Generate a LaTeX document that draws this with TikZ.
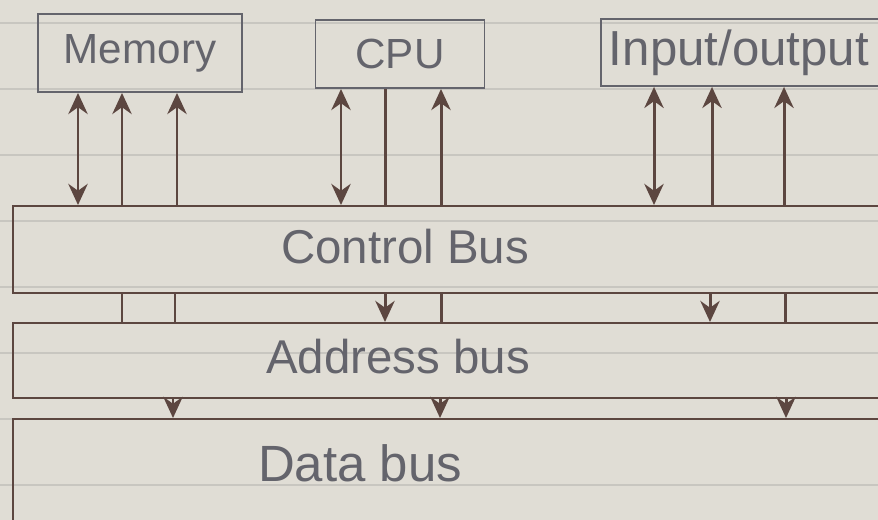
\documentclass[tikz,border=0pt]{standalone}
\usepackage{fontspec}
\setmainfont{Liberation Sans}
\usetikzlibrary{arrows.meta}
\definecolor{paper}{RGB}{224,221,213}
\definecolor{rule}{RGB}{200,198,192}
\definecolor{ink}{RGB}{92,70,64}
\definecolor{pencil}{RGB}{100,100,108}
\tikzset{
    unitbox/.style={draw=pencil,line width=1.1pt,text=pencil,font=\fontsize{24}{28}\selectfont},
    busbox/.style={draw=ink,line width=1.3pt,anchor=north west,minimum width=17.9cm},
    buslabel/.style={text=pencil,font=\fontsize{27}{32}\selectfont},
    wire/.style={draw=ink,line width=1.7pt}
}
\begin{document}
\begin{tikzpicture}[x=0.02cm,y=-0.02cm,>={Stealth[length=12pt,width=11pt]}]
        \clip (0,0) rectangle (878,520);
        \fill[paper] (0,0) rectangle (878,520);
        \foreach \y in {23,89,155,221,287,353,419,485}
            \draw[rule,line width=0.8pt] (0,\y) -- (878,\y);
        % units on top
        \node[unitbox,minimum width=4.08cm,minimum height=1.56cm] (mem) at (140,53) {Memory};
        \node[unitbox,minimum width=3.38cm,minimum height=1.36cm] (cpu) at (400,54) {CPU};
        \node[unitbox,minimum height=1.34cm,anchor=north west,text width=5.9cm,align=left,
              inner xsep=0.16cm,font=\fontsize{28}{33}\selectfont] (io) at (600,18) {Input/output};
        % buses
        \node[busbox,minimum height=1.74cm] (ctrl) at (12,205) {};
        \node[busbox,minimum height=1.5cm] (addr) at (12,322) {};
        \node[busbox,minimum height=2.4cm] (data) at (12,418) {};
        \node[buslabel] (ctrltext) at (405,247) {Control Bus};
        \node[buslabel] (addrtext) at (398,357) {Address bus};
        \node[buslabel,font=\fontsize{29}{34}\selectfont] (datatext) at (360,463) {Data bus};
        % columns of the wires
        \coordinate (m1) at (78,0); \coordinate (m2) at (122,0); \coordinate (m3) at (177,0);
        \coordinate (c1) at (341,0); \coordinate (c2) at (385,0); \coordinate (c3) at (441,0);
        \coordinate (i1) at (654,0); \coordinate (i2) at (712,0); \coordinate (i3) at (784,0);
        \coordinate (a1) at (122,0); \coordinate (a2) at (175,0); \coordinate (a3) at (385,0);
        \coordinate (a4) at (441,0); \coordinate (a5) at (710,0); \coordinate (a6) at (785,0);
        \coordinate (d1) at (173,0); \coordinate (d2) at (440,0); \coordinate (d3) at (786,0);
        % units to control bus
        \draw[wire,<->] (m1 |- mem.south) -- (m1 |- ctrl.north);
        \draw[wire,<-] (m2 |- mem.south) -- (m2 |- ctrl.north);
        \draw[wire,<-] (m3 |- mem.south) -- (m3 |- ctrl.north);
        \draw[wire,<->] (c1 |- cpu.south) -- (c1 |- ctrl.north);
        \draw[wire] (c2 |- cpu.south) -- (c2 |- ctrl.north);
        \draw[wire,<-] (c3 |- cpu.south) -- (c3 |- ctrl.north);
        \draw[wire,<->] (i1 |- io.south) -- (i1 |- ctrl.north);
        \draw[wire,<-] (i2 |- io.south) -- (i2 |- ctrl.north);
        \draw[wire,<-] (i3 |- io.south) -- (i3 |- ctrl.north);
        % control bus to address bus
        \draw[wire] (a1 |- ctrl.south) -- (a1 |- addr.north);
        \draw[wire] (a2 |- ctrl.south) -- (a2 |- addr.north);
        \draw[wire,->] (a3 |- ctrl.south) -- (a3 |- addr.north);
        \draw[wire] (a4 |- ctrl.south) -- (a4 |- addr.north);
        \draw[wire,->] (a5 |- ctrl.south) -- (a5 |- addr.north);
        \draw[wire] (a6 |- ctrl.south) -- (a6 |- addr.north);
        % address bus to data bus
        \draw[wire,->] (d1 |- addr.south) -- (d1 |- data.north);
        \draw[wire,->] (d2 |- addr.south) -- (d2 |- data.north);
        \draw[wire,->] (d3 |- addr.south) -- (d3 |- data.north);
\end{tikzpicture}
\end{document}
